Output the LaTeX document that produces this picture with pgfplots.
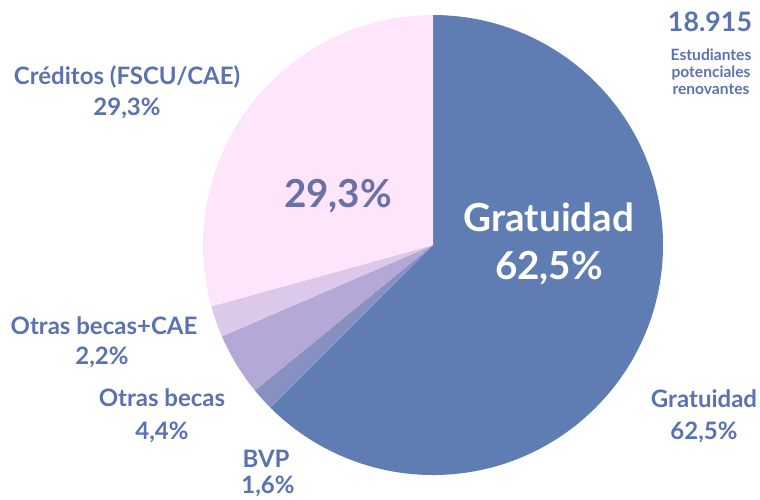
\documentclass[border=0pt]{standalone}
\usepackage{pgfplots}
\pgfplotsset{compat=1.18}
\usepackage{pgfplotstable}
\usepackage{fontspec}
\setmainfont{Lato}
\definecolor{cGrat}{HTML}{607DB3}
\definecolor{cBVP}{HTML}{8890C2}
\definecolor{cOtras}{HTML}{B4A9D6}
\definecolor{cOtrasCAE}{HTML}{DCC8E8}
\definecolor{cCred}{HTML}{FDE5FC}
\definecolor{txt}{HTML}{5B72B0}
\definecolor{txtin}{HTML}{6B70A6}
\pgfplotstableread{
label value
Gratuidad 62.5
BVP 1.6
OtrasBecas 4.4
OtrasBecasCAE 2.2
Creditos 29.3
}\piedata
\begin{document}
\begin{tikzpicture}
\pgfplotstablegetelem{0}{value}\of\piedata\let\vA\pgfplotsretval
\pgfplotstablegetelem{1}{value}\of\piedata\let\vB\pgfplotsretval
\pgfplotstablegetelem{2}{value}\of\piedata\let\vC\pgfplotsretval
\pgfplotstablegetelem{3}{value}\of\piedata\let\vD\pgfplotsretval
\pgfplotstablegetelem{4}{value}\of\piedata\let\vE\pgfplotsretval
\pgfmathsetmacro\aA{90}
\pgfmathsetmacro\aB{\aA-3.6*\vA}
\pgfmathsetmacro\aC{\aB-3.6*\vB}
\pgfmathsetmacro\aD{\aC-3.6*\vC}
\pgfmathsetmacro\aE{\aD-3.6*\vD}
\pgfmathsetmacro\aF{\aE-3.6*\vE}
\begin{axis}[
  width=380pt, height=249.5pt, scale only axis,
  xmin=0, xmax=760, ymin=0, ymax=499,
  hide axis, clip=false,
]
\def\cx{433}\def\cy{254}\def\R{115pt}
\fill[cGrat] (axis cs:\cx,\cy) -- ++(\aA:\R) arc[start angle=\aA, end angle=\aB, radius=\R] -- cycle;
\fill[cBVP] (axis cs:\cx,\cy) -- ++(\aB:\R) arc[start angle=\aB, end angle=\aC, radius=\R] -- cycle;
\fill[cOtras] (axis cs:\cx,\cy) -- ++(\aC:\R) arc[start angle=\aC, end angle=\aD, radius=\R] -- cycle;
\fill[cOtrasCAE] (axis cs:\cx,\cy) -- ++(\aD:\R) arc[start angle=\aD, end angle=\aE, radius=\R] -- cycle;
\fill[cCred] (axis cs:\cx,\cy) -- ++(\aE:\R) arc[start angle=\aE, end angle=\aF, radius=\R] -- cycle;
% inner labels
\node[text=white,font=\bfseries\fontsize{19.3}{21}\selectfont] at (axis cs:549,282) {Gratuidad};
\node[text=white,font=\bfseries\fontsize{19.3}{21}\selectfont] at (axis cs:549,231) {62,5\%};
\node[text=txtin,font=\bfseries\fontsize{19.3}{21}\selectfont] at (axis cs:338,303) {29,3\%};
% outer labels
\begin{scope}[every node/.style={text=txt,font=\bfseries\fontsize{12}{13}\selectfont}]
\node at (axis cs:127,422) {Créditos (FSCU/CAE)};
\node at (axis cs:127,391) {29,3\%};
\node at (axis cs:104,173) {Otras becas+CAE};
\node at (axis cs:102,142) {2,2\%};
\node at (axis cs:162,101) {Otras becas};
\node at (axis cs:162,67) {4,4\%};
\node at (axis cs:266,40) {BVP};
\node at (axis cs:268,13) {1,6\%};
\node at (axis cs:704,100) {Gratuidad};
\node at (axis cs:704,67) {62,5\%};
\end{scope}
\node[text=txt,font=\bfseries\fontsize{13.4}{14}\selectfont] at (axis cs:710,477) {18.915};
\node[text=txt,font=\bfseries\fontsize{7.8}{8.4}\selectfont,align=center] at (axis cs:711,427) {Estudiantes\\potenciales\\renovantes};
\end{axis}
\pgfresetboundingbox
\path[use as bounding box] (current axis.south west) rectangle (current axis.north east);
\end{tikzpicture}
\end{document}
